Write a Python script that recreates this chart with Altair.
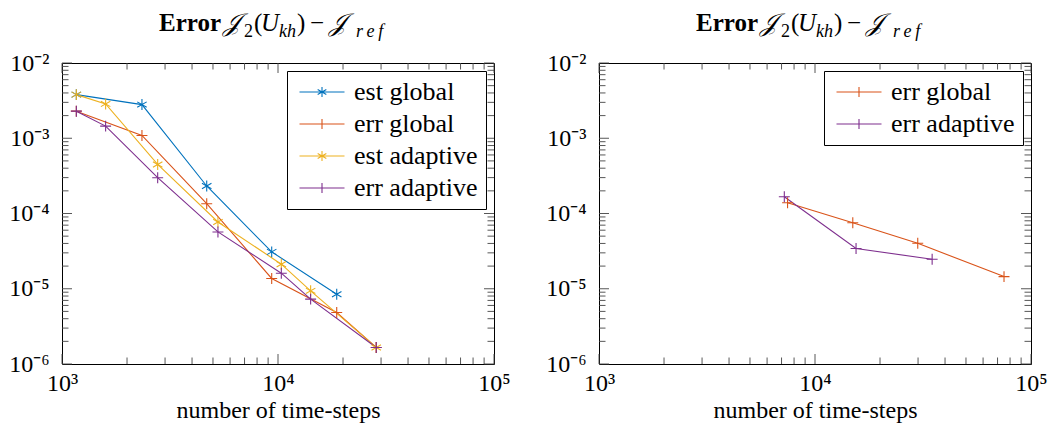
import math
import altair as alt
import pandas as pd

# ---------------- data ----------------
est_global_x = [1165, 2345, 4677, 9350, 18700]
est_global_y = [3.80e-3, 2.80e-3, 2.32e-4, 3.09e-5, 8.47e-6]
err_global_x = [1165, 2345, 4677, 9350, 18700, 28500]
err_global_y = [2.29e-3, 1.09e-3, 1.35e-4, 1.37e-5, 4.84e-6, 1.66e-6]
est_adaptive_x = [1165, 1592, 2773, 5272, 10360, 14160, 28500]
est_adaptive_y = [3.80e-3, 2.86e-3, 4.49e-4, 7.71e-5, 2.12e-5, 9.38e-6, 1.66e-6]
err_adaptive_x = [1165, 1592, 2773, 5272, 10360, 14160, 28500]
err_adaptive_y = [2.29e-3, 1.45e-3, 2.99e-4, 5.69e-5, 1.61e-5, 7.28e-6, 1.66e-6]

err_global2_x = [7464, 14960, 29900, 75000]
err_global2_y = [1.39e-4, 7.55e-5, 4.02e-5, 1.45e-5]
err_adaptive2_x = [7210, 15490, 34860]
err_adaptive2_y = [1.67e-4, 3.42e-5, 2.47e-5]

left_series = ["est global", "err global", "est adaptive", "err adaptive"]
left_colors = ["#0072BD", "#D95319", "#EDB120", "#7E2F8E"]
right_series = ["err global", "err adaptive"]
right_colors = ["#D95319", "#7E2F8E"]

x_ticks = [1e3, 1e4, 1e5]
x_tick_labels = ["10³", "10⁴", "10⁵"]
y_ticks = [1e-6, 1e-5, 1e-4, 1e-3, 1e-2]
y_tick_labels = ["10⁻⁶", "10⁻⁵", "10⁻⁴", "10⁻³", "10⁻²"]

x_title = "number of time-steps"
title_pieces = ["Error", "𝒥", "2", "(", "U", "kh", ")", "−", "𝒥", "r\u2009e\u2009f"]
title_styles = ["bold", "italic", "sub", "roman", "italic", "subitalic", "roman", "roman", "italic", "subitalic"]
title_px = [97, 161, 182, 192, 199, 217, 235, 248, 267, 294]

# ---------------- layout ----------------
W, H = 432, 301
FONT = "Liberation Serif"
TICK_COLOR = "#444444"
MAJOR, MINOR = 10, 6.5

xscale = alt.Scale(type="log", domain=[1e3, 1e5], nice=False)
yscale = alt.Scale(type="log", domain=[1e-6, 1e-2], nice=False)

x_minor = [m * 10 ** e for e in (3, 4) for m in range(2, 10)]
y_minor = [m * 10 ** e for e in (-6, -5, -4, -3) for m in range(2, 10)]


def label_expr(values, labels):
    expr = "''"
    for v, l in zip(values, labels):
        expr = f"abs(log(datum.value)/LN10 - ({round(math.log10(v))})) < 0.01 ? '{l}' : ({expr})"
    return expr


X_AXIS = alt.Axis(
    orient="bottom", values=x_ticks, labelExpr=label_expr(x_ticks, x_tick_labels),
    ticks=False, domain=False, grid=False, title=x_title, labelFont=FONT,
    labelFontSize=24, labelPadding=7, labelColor="black", titleFont=FONT,
    titleFontSize=24, titleFontWeight="normal", titleColor="black",
    titlePadding=3, labelFlush=False, labelOverlap=False)
Y_AXIS = alt.Axis(
    orient="left", values=y_ticks, labelExpr=label_expr(y_ticks, y_tick_labels),
    ticks=False, domain=False, grid=False, title=None, labelFont=FONT,
    labelFontSize=24, labelPadding=13, labelColor="black", labelFlush=False,
    labelOverlap=False)

PLUS = "M-1,0H1M0,-1V1"
STAR = "M0,-1V1M-0.866,-0.5L0.866,0.5M-0.866,0.5L0.866,-0.5"
LEG_PLUS = "M-2.25,0H2.25M0,-0.5V0.5"
LEG_STAR = "M-2.25,0H2.25M0,-0.5V0.5M-0.433,-0.25L0.433,0.25M-0.433,0.25L0.433,-0.25"


def make_df(names, xs, ys):
    rows = []
    for i, (n, xv, yv) in enumerate(zip(names, xs, ys)):
        for j, (a, b) in enumerate(zip(xv, yv)):
            rows.append({"series": n, "order": i, "idx": j, "x": a, "y": b})
    return pd.DataFrame(rows)


# inward tick segments (both sides), positioned through the log scales
xt_rows, yt_rows = [], []
for vals, ln in ((x_ticks, MAJOR), (x_minor, MINOR)):
    for v in vals:
        xt_rows.append({"v": v, "p0": H, "p1": H - ln})
        xt_rows.append({"v": v, "p0": 0, "p1": ln})
for vals, ln in ((y_ticks, MAJOR), (y_minor, MINOR)):
    for v in vals:
        yt_rows.append({"v": v, "p0": 0, "p1": ln})
        yt_rows.append({"v": v, "p0": W, "p1": W - ln})
xt_df = pd.DataFrame(xt_rows)
yt_df = pd.DataFrame(yt_rows)


def panel(df, names, colors):
    legend = alt.Legend(
        title=None, orient="top-right", offset=8, fillColor="white", strokeColor="black",
        padding=8, symbolSize=400, symbolOffset=14, labelOffset=19, labelFont=FONT,
        labelFontSize=26, labelColor="black", rowPadding=6, symbolStrokeWidth=1.1,
        symbolOpacity=1, labelLimit=0, symbolFillColor="transparent")
    color_scale = alt.Scale(domain=names, range=colors)
    color = alt.Color("series:N", scale=color_scale, legend=legend)
    X = alt.X("x:Q", scale=xscale, axis=X_AXIS)
    Y = alt.Y("y:Q", scale=yscale, axis=Y_AXIS)

    main = alt.Chart(df).mark_line(strokeWidth=1.1).encode(
        x=X, y=Y, color=color, detail="series:N", order="idx:Q")
    stars = alt.Chart(df).transform_filter(
        alt.FieldOneOfPredicate(field="series", oneOf=["est global", "est adaptive"])
    ).mark_point(shape=STAR, filled=False, size=120, strokeWidth=1.1, opacity=1).encode(
        x=X, y=Y, color=color)
    pluses = alt.Chart(df).transform_filter(
        alt.FieldOneOfPredicate(field="series", oneOf=["err global", "err adaptive"])
    ).mark_point(shape=PLUS, filled=False, size=120, strokeWidth=1.1, opacity=1).encode(
        x=X, y=Y, color=color)

    leg_paths = [LEG_STAR if n.startswith("est") else LEG_PLUS for n in names]
    leg = alt.Chart(df).mark_point(opacity=0, filled=False).encode(
        x=X, y=Y, color=color,
        shape=alt.Shape("series:N", scale=alt.Scale(domain=names, range=leg_paths), legend=legend),
    )

    xt = alt.Chart(xt_df).mark_rule(color=TICK_COLOR, strokeWidth=0.9).encode(
        x=alt.X("v:Q", scale=xscale, axis=X_AXIS),
        y=alt.Y("p0:Q", scale=None), y2="p1:Q")
    yt = alt.Chart(yt_df).mark_rule(color=TICK_COLOR, strokeWidth=0.9).encode(
        y=alt.Y("v:Q", scale=yscale, axis=Y_AXIS),
        x=alt.X("p0:Q", scale=None), x2="p1:Q")

    tdf = pd.DataFrame({"t": title_pieces, "s": title_styles, "px": title_px})
    tdf["py"] = [-32 if s in ("bold", "italic", "roman") else -26 for s in title_styles]

    def tlayer(style, size, weight, fstyle):
        return alt.Chart(tdf).transform_filter(alt.datum.s == style).mark_text(
            align="left", baseline="alphabetic", font=FONT, fontSize=size,
            fontWeight=weight, fontStyle=fstyle, color="black").encode(
            x=alt.X("px:Q", scale=None), y=alt.Y("py:Q", scale=None), text="t:N")

    titles = [
        tlayer("bold", 25, "bold", "normal"),
        tlayer("italic", 25, "normal", "italic"),
        tlayer("roman", 25, "normal", "normal"),
        tlayer("sub", 18, "normal", "normal"),
        tlayer("subitalic", 18, "normal", "italic"),
    ]

    return alt.layer(main, stars, pluses, leg, xt, yt, *titles).properties(width=W, height=H)


left_df = make_df(left_series,
                  [est_global_x, err_global_x, est_adaptive_x, err_adaptive_x],
                  [est_global_y, err_global_y, est_adaptive_y, err_adaptive_y])
right_df = make_df(right_series, [err_global2_x, err_adaptive2_x], [err_global2_y, err_adaptive2_y])

chart = alt.hconcat(
    panel(left_df, left_series, left_colors),
    panel(right_df, right_series, right_colors),
    spacing=34,
).resolve_scale(color="independent", shape="independent").configure(
    font=FONT).configure_axis(labelFont=FONT, titleFont=FONT).configure_legend(
    labelFont=FONT).configure_view(stroke="black", strokeWidth=1).properties(
    padding={"left": 8, "top": 10, "right": 5, "bottom": 0}, background="white")

chart.save("out.html", embed_options={"renderer": "svg", "actions": False})
